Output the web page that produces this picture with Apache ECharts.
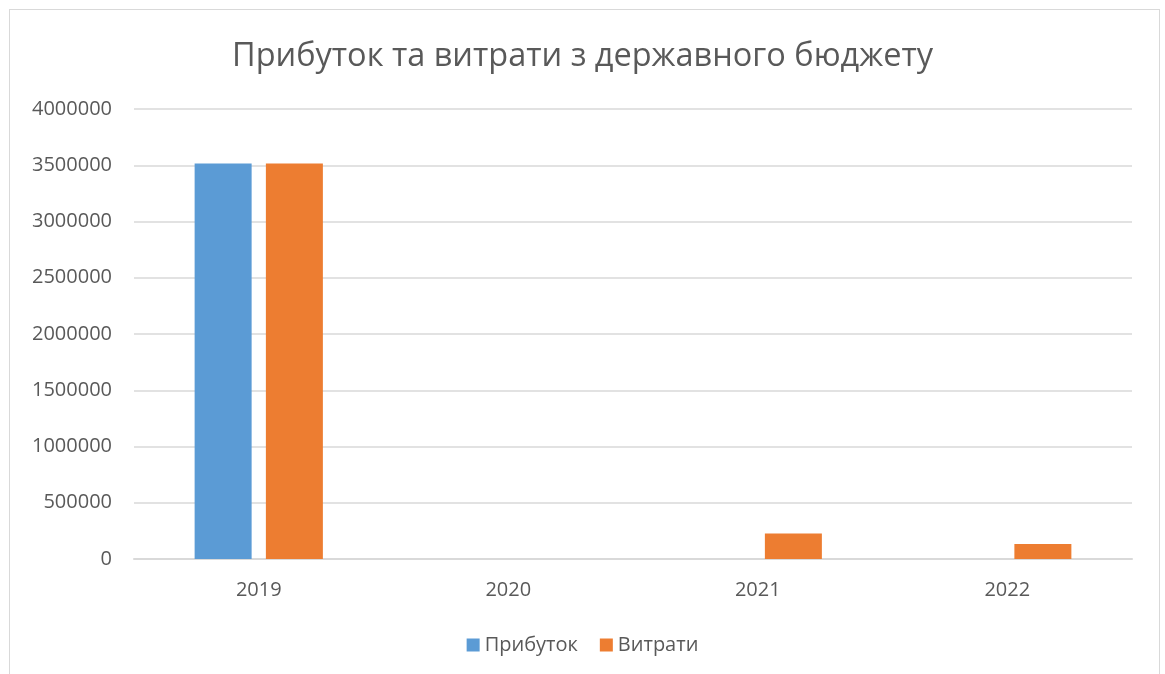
<!DOCTYPE html>
<html>
<head>
<meta charset="utf-8">
<script src="https://cdn.jsdelivr.net/npm/echarts@6/dist/echarts.min.js"></script>
<style>
html, body { margin: 0; padding: 0; background: #fff; }
#frame {
    position: absolute; left: 9px; top: 9px;
    width: 1151px; height: 700px;
    border: 1px solid #d9d9d9; box-sizing: border-box;
}
#chart { position: absolute; left: 0; top: 0; width: 1165px; height: 674px; }
</style>
</head>
<body>
<div id="frame"></div>
<div id="chart"></div>
<script>
const years = ['2019', '2020', '2021', '2022'];
const income = [3515000, 0, 0, 0];
const expenses = [3515000, 0, 226000, 133000];
const yTicks = { min: 0, max: 4000000, interval: 500000 };

const chart = echarts.init(document.getElementById('chart'));
const font = '"Open Sans", "Noto Sans", sans-serif';

const option = {
    textStyle: { fontFamily: font },
    title: {
        text: 'Прибуток та витрати з державного бюджету',
        left: 'center',
        top: 35,
        textStyle: { fontFamily: font, fontSize: 32.5, fontWeight: 'normal', color: '#595959' }
    },
    legend: {
        bottom: 14,
        left: 'center',
        itemWidth: 13,
        itemHeight: 13,
        itemGap: 22,
        icon: 'rect',
        textStyle: { fontFamily: font, fontSize: 20, color: '#595959' },
        data: ['Прибуток', 'Витрати']
    },
    grid: { left: 134, right: 33, top: 109, bottom: 115 },
    xAxis: {
        type: 'category',
        data: years,
        axisTick: { show: false },
        axisLine: { lineStyle: { color: '#d9d9d9', width: 2 } },
        axisLabel: { fontFamily: font, fontSize: 20, color: '#595959', margin: 21 }
    },
    yAxis: {
        type: 'value',
        min: yTicks.min,
        max: yTicks.max,
        interval: yTicks.interval,
        axisLine: { show: false },
        axisTick: { show: false },
        splitLine: { lineStyle: { color: '#d9d9d9', width: 1.5 } },
        axisLabel: {
            fontFamily: font, fontSize: 20, color: '#595959', margin: 22,
            formatter: function (v) { return String(v); }
        }
    },
    series: [
        {
            name: 'Прибуток',
            type: 'bar',
            data: income,
            barWidth: 57,
            barGap: '25%',
            itemStyle: { color: '#5b9bd5' }
        },
        {
            name: 'Витрати',
            type: 'bar',
            data: expenses,
            barWidth: 57,
            barGap: '25%',
            itemStyle: { color: '#ed7d31' }
        }
    ]
};

chart.setOption(option);
</script>
</body>
</html>
